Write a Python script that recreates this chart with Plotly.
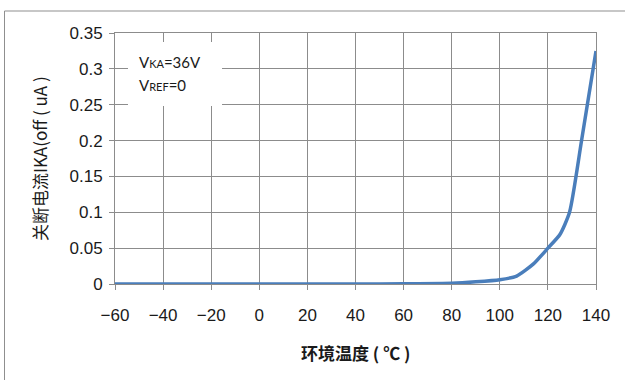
import plotly.graph_objects as go

# Off-state cathode current vs ambient temperature
temperature_c = [-60, -40, -20, 0, 20, 40, 60, 80, 90, 100, 107, 114, 120, 125, 129, 134, 140]
ika_off_ua = [0, 0, 0, 0, 0, 0, 0.0003, 0.001, 0.003, 0.006, 0.011, 0.028, 0.05, 0.069, 0.1, 0.2, 0.325]

x_ticks = [-60, -40, -20, 0, 20, 40, 60, 80, 100, 120, 140]
y_ticks = [0, 0.05, 0.1, 0.15, 0.2, 0.25, 0.3, 0.35]

grid = "#8c8c8c"
tick_font = dict(family="Liberation Sans, Arial, sans-serif", size=17, color="#1a1a1a")
cjk = "Noto Sans CJK SC, sans-serif"

fig = go.Figure()
fig.add_trace(go.Scatter(
    x=temperature_c, y=ika_off_ua, mode="lines",
    line=dict(color="#4a7ebb", width=3.5, shape="spline", smoothing=0.6),
    showlegend=False, hoverinfo="skip",
))

fig.update_layout(
    width=625, height=380,
    margin=dict(l=115, r=29, t=33, b=96),
    paper_bgcolor="white", plot_bgcolor="white",
    xaxis=dict(
        range=[-60, 140], tickvals=x_ticks, showgrid=True, gridcolor=grid, gridwidth=1,
        zeroline=False, showline=True, linecolor=grid, linewidth=1, mirror=True,
        ticks="outside", ticklen=5, tickcolor=grid, tickfont=tick_font,
        ticklabelstandoff=11,
    ),
    yaxis=dict(
        range=[0, 0.35], tickvals=y_ticks, showgrid=True, gridcolor=grid, gridwidth=1,
        zeroline=False, showline=True, linecolor=grid, linewidth=1, mirror=True,
        ticks="outside", ticklen=5, tickcolor=grid, tickfont=tick_font,
        ticklabelstandoff=3,
    ),
)

# Outer chart frame (top and left edges)
frame = dict(color="#8f8f8f", width=1)
fig.add_shape(type="line", xref="paper", yref="paper", x0=-0.2297, x1=1.07,
              y0=1.0876, y1=1.0876, line=frame)
fig.add_shape(type="line", xref="paper", yref="paper", x0=-0.2297, x1=-0.2297,
              y0=-0.4, y1=1.0876, line=frame)

# White label box for the test conditions
fig.add_shape(type="rect", xref="paper", yref="paper", x0=0.027, x1=0.2225,
              y0=0.709, y1=0.964, fillcolor="white", line=dict(width=0), layer="above")

label_font = dict(family="Lato, Open Sans, sans-serif", size=15, color="#1a1a1a")
fig.add_annotation(xref="paper", yref="paper", x=0.0457, y=0.8845, xanchor="left", yanchor="middle",
                   text="V<span style='font-size:11px'>KA</span>=36V", showarrow=False, font=label_font)
fig.add_annotation(xref="paper", yref="paper", x=0.0457, y=0.793, xanchor="left", yanchor="middle",
                   text="V<span style='font-size:11px'>REF</span>=0", showarrow=False, font=label_font)

# Axis titles
fig.add_annotation(xref="paper", yref="paper", x=0.499, y=-0.271, xanchor="center", yanchor="middle",
                   text="<b>环境温度 ( ℃ )</b>", showarrow=False,
                   font=dict(family=cjk, size=17, color="#1a1a1a"))
fig.add_annotation(xref="paper", yref="paper", x=-0.156, y=0.502, xanchor="center", yanchor="middle",
                   text="关断电流IKA(off ( uA )", textangle=-90, showarrow=False,
                   font=dict(family=cjk, size=17, color="#1a1a1a"))

fig.write_html("out.html")
